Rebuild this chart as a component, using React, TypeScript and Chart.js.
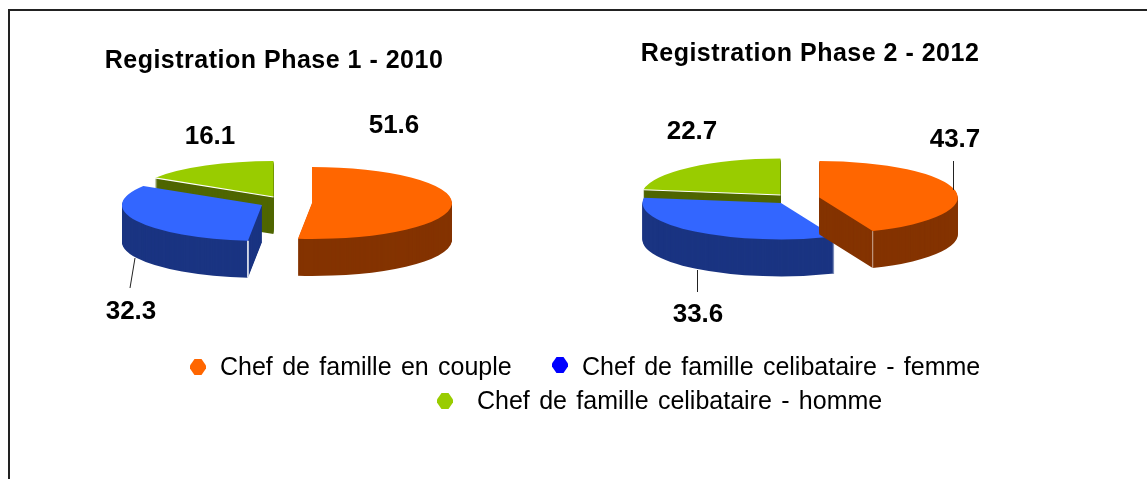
import React, { useEffect, useRef } from "react";
import { Chart, registerables } from "chart.js";

Chart.register(...registerables);

const categories = [
  "Chef de famille en couple",
  "Chef de famille celibataire - femme",
  "Chef de famille celibataire - homme",
];
const phase1Values = [51.6, 32.3, 16.1];
const phase2Values = [43.7, 33.6, 22.7];
const phase1Title = "Registration Phase 1 - 2010";
const phase2Title = "Registration Phase 2 - 2012";

const topColors = ["#FF6600", "#3366FF", "#99CC00"];
const wallColors = ["#843300", "#1A3482", "#4F6600"];
const legendColors = ["#FF6600", "#0000FF", "#99CC00"];
const FONT = "'Liberation Sans', Arial, sans-serif";

const tiltPlugin = {
  id: "tilted",
  beforeDraw(chart: any) {
    chart.ctx.letterSpacing = chart.options.plugins.tilted.titleSpacing;
  },
  beforeDatasetsDraw(chart: any) {
    const ctx = chart.ctx;
    ctx.letterSpacing = "0px";
    const cfg = chart.options.plugins.tilted;
    const meta = chart.getDatasetMeta(0);
    const place = (el: any, i: number, yOff: number, color: string) => {
      const s = cfg.shifts[i];
      ctx.save();
      ctx.translate(el.x + s.dx, cfg.cy + s.dy + yOff);
      ctx.scale(1, cfg.squash);
      ctx.translate(-el.x, -el.y);
      const saved = el.options;
      el.options = { ...saved, backgroundColor: color, borderWidth: 0 };
      el.draw(ctx);
      el.options = saved;
      ctx.restore();
    };
    const rim = (el: any, i: number, angle: number) => {
      const s = cfg.shifts[i];
      return {
        ax: el.x + s.dx,
        ay: cfg.cy + s.dy,
        x: el.x + s.dx + el.outerRadius * Math.cos(angle),
        y: cfg.cy + s.dy + el.outerRadius * Math.sin(angle) * cfg.squash,
      };
    };
    for (let i = meta.data.length - 1; i >= 0; i--) {
      const el = meta.data[i];
      for (let d = cfg.depth; d >= 1; d--) place(el, i, d, wallColors[i]);
      place(el, i, 0, topColors[i]);
      for (const edge of cfg.edges.filter((e: any) => e.slice === i)) {
        const p = rim(el, i, edge.side === "start" ? el.startAngle : el.endAngle);
        ctx.save();
        ctx.strokeStyle = edge.color;
        ctx.lineWidth = edge.width;
        ctx.beginPath();
        if (edge.kind === "radial") {
          ctx.moveTo(p.ax, p.ay);
          ctx.lineTo(p.x, p.y);
        } else {
          ctx.moveTo(p.x, p.y);
          ctx.lineTo(p.x, p.y + cfg.depth);
        }
        ctx.stroke();
        ctx.restore();
      }
    }
    return false;
  },
  afterDraw(chart: any) {
    const ctx = chart.ctx;
    const cfg = chart.options.plugins.tilted;
    const values = chart.data.datasets[0].data;
    ctx.save();
    ctx.letterSpacing = "0px";
    ctx.fillStyle = "#000";
    ctx.font = `bold 26px ${FONT}`;
    ctx.textAlign = "center";
    ctx.textBaseline = "middle";
    values.forEach((v: number, i: number) => {
      const p = cfg.labels[i];
      ctx.fillText(v.toFixed(1), p.x, p.y);
    });
    ctx.strokeStyle = "#222";
    ctx.lineWidth = 1;
    for (const l of cfg.leaders) {
      ctx.beginPath();
      ctx.moveTo(l[0], l[1]);
      ctx.lineTo(l[2], l[3]);
      ctx.stroke();
    }
    ctx.restore();
  },
};

function makeChart(canvas: HTMLCanvasElement, title: string, values: number[], o: any) {
  return new Chart(canvas, {
    type: "pie",
    data: {
      labels: categories,
      datasets: [{ data: values, backgroundColor: topColors, borderWidth: 0 }],
    },
    plugins: [tiltPlugin],
    options: {
      animation: false,
      responsive: false,
      layout: { padding: o.padding },
      plugins: {
        legend: { display: false },
        tooltip: { enabled: false },
        title: {
          display: true,
          text: title,
          color: "#000",
          font: { family: FONT, size: 25, weight: "bold", lineHeight: 1.2 },
          padding: o.titlePadding,
        },
        tilted: o.tilted,
      },
    } as any,
  });
}

export default function App() {
  const leftRef = useRef<HTMLCanvasElement>(null);
  const rightRef = useRef<HTMLCanvasElement>(null);

  useEffect(() => {
    const a = makeChart(leftRef.current!, phase1Title, phase1Values, {
      padding: { left: 0, right: 0, top: 0, bottom: 119 },
      titlePadding: { top: 46, bottom: 4 },
      tilted: {
        titleSpacing: "0.5px",
        cy: 200,
        squash: 0.257,
        depth: 37,
        shifts: [
          { dx: 38, dy: 3 },
          { dx: -12, dy: 5 },
          { dx: -0.5, dy: -3 },
        ],
        labels: [
          { x: 394, y: 126 },
          { x: 131, y: 312 },
          { x: 210, y: 137 },
        ],
        leaders: [[135, 258, 130, 288]],
        edges: [
          { slice: 1, side: "start", kind: "wall", color: "#ffffff", width: 1.5 },
          { slice: 2, side: "start", kind: "radial", color: "#ffffff", width: 1.2 },
        ],
      },
    });
    const b = makeChart(rightRef.current!, phase2Title, phase2Values, {
      padding: { left: 0, right: 0, top: 0, bottom: 122 },
      titlePadding: { top: 39, bottom: 11 },
      tilted: {
        titleSpacing: "0.5px",
        cy: 200,
        squash: 0.263,
        depth: 37,
        shifts: [
          { dx: 9.3, dy: -2.5 },
          { dx: -29, dy: 3 },
          { dx: -29.5, dy: -5 },
        ],
        labels: [
          { x: 381, y: 140 },
          { x: 124, y: 315 },
          { x: 118, y: 132 },
        ],
        leaders: [
          [379.5, 161, 379.5, 190],
          [123.5, 270, 123.5, 292],
        ],
        edges: [
          { slice: 0, side: "end", kind: "wall", color: "rgba(255,255,255,0.6)", width: 1 },
          { slice: 2, side: "start", kind: "radial", color: "#ffffff", width: 1.2 },
        ],
      },
    });
    return () => {
      a.destroy();
      b.destroy();
    };
  }, []);

  const legendStyle = (x: number, y: number): React.CSSProperties => ({
    position: "absolute",
    left: x,
    top: y - 15,
    lineHeight: "30px",
    height: 30,
    fontFamily: FONT,
    fontSize: 25,
    wordSpacing: 2.4,
    color: "#000",
    whiteSpace: "nowrap",
  });
  const marker = (x: number, y: number, color: string): React.CSSProperties => ({
    position: "absolute",
    left: x - 8,
    top: y - 8,
    width: 16,
    height: 16,
    background: color,
    clipPath: "polygon(28% 0, 72% 0, 100% 40%, 100% 60%, 72% 100%, 28% 100%, 0 60%, 0 40%)",
  });

  const legendPlaces = [
    { mx: 198, my: 367, tx: 220, ty: 366 },
    { mx: 560, my: 365, tx: 582, ty: 366 },
    { mx: 445, my: 401, tx: 477, ty: 400 },
  ];

  return (
    <div style={{ position: "absolute", left: 0, top: 0, width: 1147, height: 479, overflow: "hidden", background: "#fff" }}>
      <div style={{ position: "absolute", left: 8, top: 9, width: 1300, height: 700, borderLeft: "2px solid #222", borderTop: "2px solid #222" }} />
      <canvas ref={leftRef} width={548} height={479} style={{ position: "absolute", left: 0, top: 0, width: 548, height: 479 }} />
      <canvas ref={rightRef} width={472} height={479} style={{ position: "absolute", left: 574, top: 0, width: 472, height: 479 }} />
      {categories.map((c, i) => (
        <React.Fragment key={c}>
          <div style={marker(legendPlaces[i].mx, legendPlaces[i].my, legendColors[i])} />
          <div style={legendStyle(legendPlaces[i].tx, legendPlaces[i].ty)}>{c}</div>
        </React.Fragment>
      ))}
    </div>
  );
}
